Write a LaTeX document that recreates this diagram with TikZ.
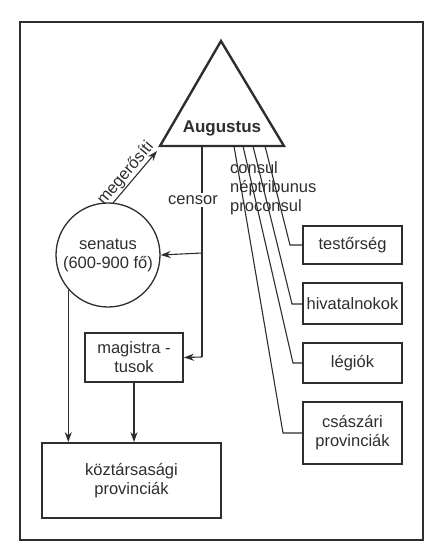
\documentclass[tikz,border=0pt]{standalone}
\usepackage{fontspec}
\setmainfont{Liberation Sans}
\usetikzlibrary{arrows.meta,calc}
\definecolor{ink}{HTML}{2E2E2E}
\begin{document}
\begin{tikzpicture}[x=1pt,y=-1pt,
  every node/.style={font=\fontsize{16.5}{19}\selectfont, text=ink},
  box/.style={draw=ink, line width=1.8pt, align=center, inner sep=0pt},
  conn/.style={draw=ink, line width=1.1pt},
  arr/.style={conn, -{Stealth[length=10pt,width=7pt]}},
  lbl/.style={inner sep=1pt}]
\useasboundingbox (0,0) rectangle (427,547);
% frame
\draw[ink, line width=1.3pt] (20,22) rectangle (423,540);
% triangle
\coordinate (T1) at (221,41);
\coordinate (T2) at (160,146);
\coordinate (T3) at (284,146);
\draw[ink, line width=2.4pt, line join=miter] (T1) -- (T2) -- (T3) -- cycle;
\node[font=\fontsize{17}{19}\selectfont\bfseries] (aug) at (222,128) {Augustus};
% senatus
\node[draw=ink, line width=1.3pt, circle, minimum size=104pt, inner sep=0pt, align=center] (sen) at (108,255) {senatus\\(600-900 fő)};
% boxes
\node[box, minimum width=98pt, minimum height=49pt] (mag) at (134,357.5) {magistra -\\tusok};
\node[box, minimum width=179pt, minimum height=75pt] (koz) at (131.5,480.5) {köztársasági\\provinciák};
\node[box, minimum width=99pt, minimum height=38pt] (tes) at (352.5,245) {testőrség};
\node[box, minimum width=99pt, minimum height=41pt] (hiv) at (352.5,303.5) {hivatalnokok};
\node[box, minimum width=99pt, minimum height=40pt] (leg) at (352.5,363) {légiók};
\node[box, minimum width=99pt, minimum height=62pt] (csa) at (352.5,433) {császári\\provinciák};
% megerősíti
\coordinate (m0) at (113,203);
\coordinate (m1) at (157,151);
\draw[arr] (m0) -- node[sloped, above, lbl, pos=0.45] (mlab) {megerősíti} (m1);
% censor
\coordinate (c0) at (202,146);
\coordinate (cA) at (202,253);
\coordinate (cB) at (202,357);
\draw[conn] (c0) -- (cB);
\draw[arr] (cA) -- (sen.east);
\draw[arr] (cB) -- (mag.east);
\node[fill=white, inner sep=2pt] (cen) at (193,200) {censor};
% senatus & magistratusok -> koz
\draw[arr] (sen.221) -- (sen.221 |- koz.north);
\draw[arr] (mag.south) -- (mag.south |- koz.north);
% lines to right boxes
\coordinate (s1) at (234,146);
\coordinate (s2) at (243,146);
\coordinate (s3) at (253,146);
\coordinate (s4) at (265,146);
\coordinate (k1) at (283,433);
\coordinate (k2) at (293,363);
\coordinate (k3) at (292,304);
\coordinate (k4) at (290,245);
\draw[conn] (s1) -- (k1) -- (k1 -| csa.west);
\draw[conn] (s2) -- (k2) -- (k2 -| leg.west);
\draw[conn] (s3) -- (k3) -- (k3 -| hiv.west);
\draw[conn] (s4) -- (k4) -- (k4 -| tes.west);
% office labels
\node[anchor=west, lbl] (con) at (229,168) {consul};
\node[anchor=west, lbl] (nep) at (229,188) {néptribunus};
\node[anchor=west, lbl] (pro) at (229,207) {proconsul};
\end{tikzpicture}
\end{document}
